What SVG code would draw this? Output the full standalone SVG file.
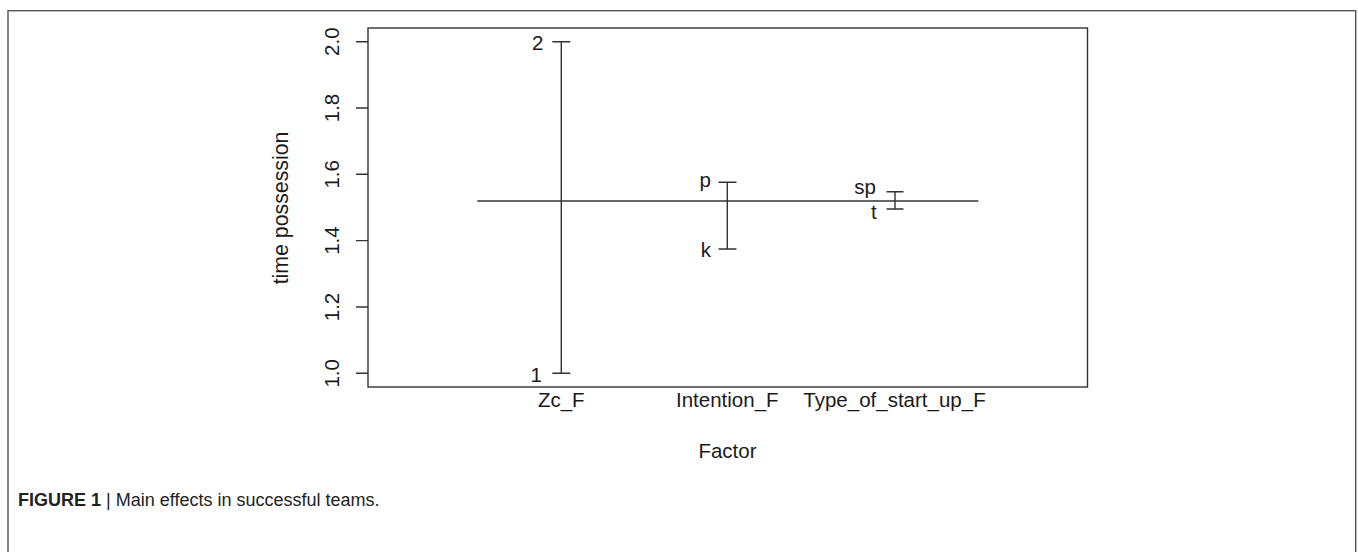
<svg xmlns="http://www.w3.org/2000/svg" width="1358" height="552" viewBox="0 0 1358 552">
<style>
.t{font-family:"Liberation Sans",Arial,sans-serif;font-size:20.5px;fill:#1a1a1a}
.ln{stroke:#333;stroke-width:1.4;fill:none}
.cap{font-family:"Liberation Sans",Arial,sans-serif;font-size:18px;fill:#222}
</style>
<rect x="8" y="10.7" width="1347.7" height="560" fill="#fff" stroke="#555" stroke-width="1.4"/>
<g id="plot-box">
<rect x="368" y="28" width="719.5" height="359" class="ln"/>
</g>
<g id="y-axis">
<path class="ln" d="M356 41.7H368M356 108H368M356 174.3H368M356 240.6H368M356 307H368M356 373.3H368"/>
<text class="t" text-anchor="middle" transform="translate(339,41.7) rotate(-90)">2.0</text>
<text class="t" text-anchor="middle" transform="translate(339,108) rotate(-90)">1.8</text>
<text class="t" text-anchor="middle" transform="translate(339,174.3) rotate(-90)">1.6</text>
<text class="t" text-anchor="middle" transform="translate(339,240.6) rotate(-90)">1.4</text>
<text class="t" text-anchor="middle" transform="translate(339,307) rotate(-90)">1.2</text>
<text class="t" text-anchor="middle" transform="translate(339,373.3) rotate(-90)">1.0</text>
<text class="t" text-anchor="middle" style="font-size:21.3px" transform="translate(288,208) rotate(-90)">time possession</text>
</g>
<g id="connectors">
<path class="ln" d="M477.3 201H978.3"/>
</g>
<g id="Zc_F">
<path class="ln" d="M561.3 41.7V373.3M552.3 41.7H570.3M552.3 373.3H570.3"/>
<text class="t" x="543.5" y="50" text-anchor="end">2</text>
<text class="t" x="542" y="382" text-anchor="end">1</text>
<text class="t" x="561.3" y="407" text-anchor="middle">Zc_F</text>
</g>
<g id="Intention_F">
<path class="ln" d="M727.3 182.3V249M718.5 182.3H736.5M718.5 249H736.5"/>
<text class="t" x="711" y="186.5" text-anchor="end">p</text>
<text class="t" x="711" y="256.5" text-anchor="end">k</text>
<text class="t" x="727.3" y="407" text-anchor="middle">Intention_F</text>
</g>
<g id="Type_of_start_up_F">
<path class="ln" d="M895 191.7V209M886.5 191.7H903.5M886.5 209H903.5"/>
<text class="t" x="876" y="194" text-anchor="end">sp</text>
<text class="t" x="876.7" y="218.5" text-anchor="end">t</text>
<text class="t" x="894.5" y="407" text-anchor="middle">Type_of_start_up_F</text>
</g>
<g id="x-title">
<text class="t" x="727.5" y="458" text-anchor="middle">Factor</text>
</g>
<g id="caption">
<text class="cap" x="18" y="506"><tspan font-weight="bold">FIGURE 1</tspan> | Main effects in successful teams.</text>
</g>
</svg>
